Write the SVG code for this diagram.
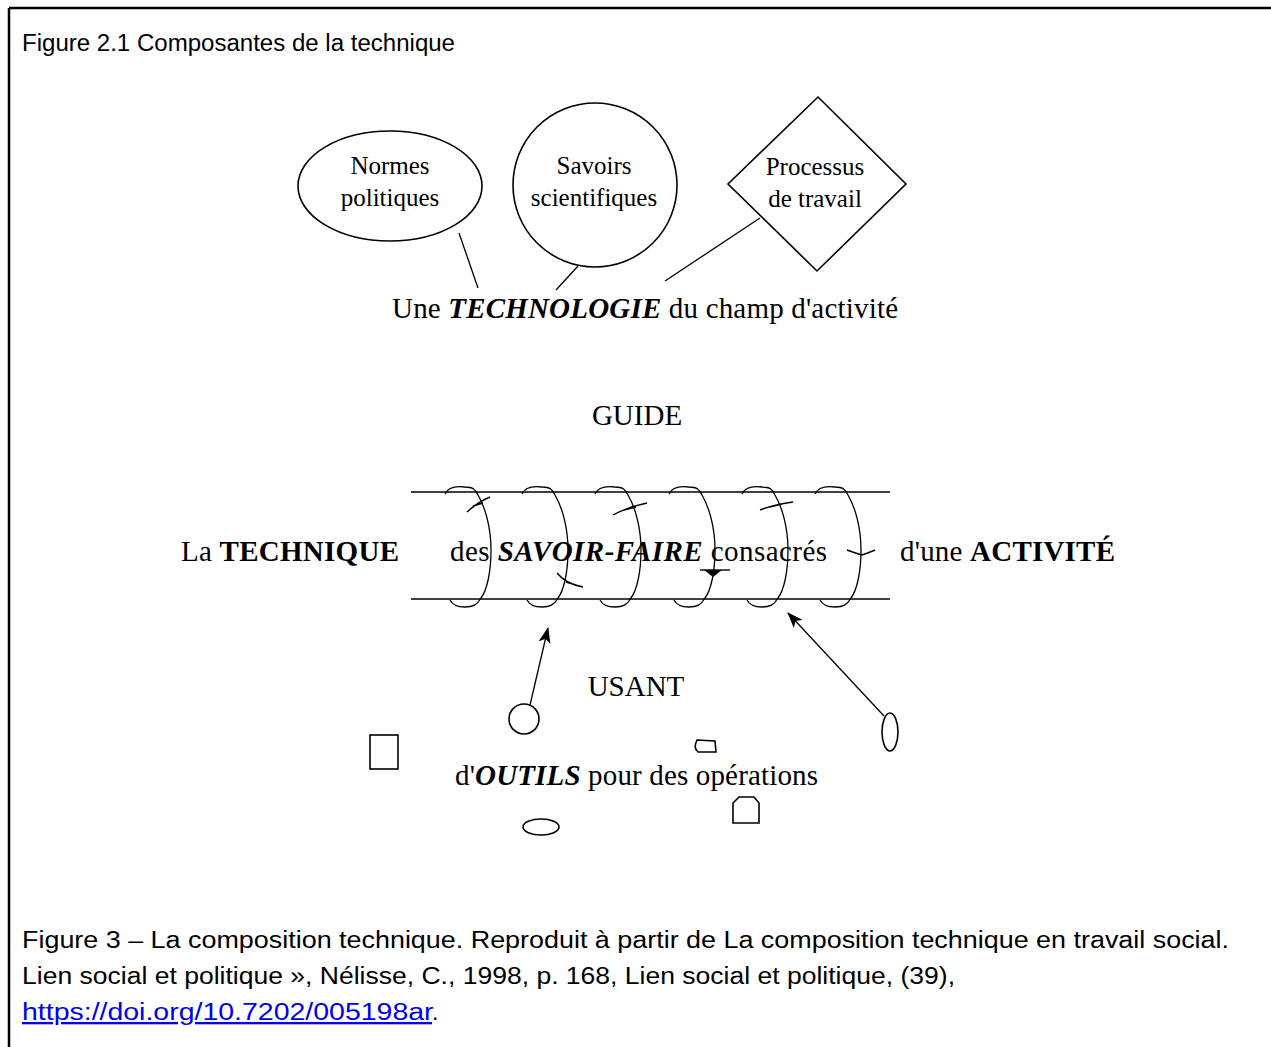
<svg xmlns="http://www.w3.org/2000/svg" width="1271" height="1047" viewBox="0 0 1271 1047">
<style>
.frame{stroke:#000;stroke-width:2.5;fill:none}
.sh{fill:none;stroke:#000;stroke-width:1.6}
.ln{fill:none;stroke:#000;stroke-width:1.3}
.t{font-family:"Liberation Serif","Times New Roman",serif;fill:#000}
.lab{font-size:29px}
.small{font-size:25px}
.cap{font-family:"Liberation Sans",Arial,sans-serif;font-size:23px;fill:#000}
.bi{font-weight:bold;font-style:italic}
.b{font-weight:bold}
.tick{fill:none;stroke:#000;stroke-width:1.4}
</style>
<defs>
<path id="loop" d="M0,2 C3,-5 12,-6 20,-5 C28,-5 30,-3 33,3 C40,15 46,35 46,58 C46,80 42,98 36,106 C32,113 28,115 20,115 C14,115 8,114 5,108"/>
<marker id="ah" viewBox="0 0 16 12" refX="15" refY="6" markerWidth="16" markerHeight="12" markerUnits="userSpaceOnUse" orient="auto">
<path d="M0,0 L16,6 L0,12 L4,6 Z" fill="#000"/>
</marker>
</defs>
<g id="frame">
<line class="frame" x1="9" y1="8" x2="1271" y2="8"/>
<line class="frame" x1="9" y1="8" x2="9" y2="1047"/>
</g>
<text class="cap" x="22" y="51" textLength="433" lengthAdjust="spacingAndGlyphs">Figure 2.1 Composantes de la technique</text>

<g id="normes">
<ellipse class="sh" cx="390" cy="186" rx="92" ry="55"/>
<text class="t small" x="390" y="174" text-anchor="middle">Normes</text>
<text class="t small" x="390" y="206" text-anchor="middle">politiques</text>
</g>
<g id="savoirs">
<ellipse class="sh" cx="595" cy="185" rx="82" ry="82"/>
<text class="t small" x="594" y="174" text-anchor="middle">Savoirs</text>
<text class="t small" x="594" y="206" text-anchor="middle">scientifiques</text>
</g>
<g id="processus">
<polygon class="sh" points="818,97 906,184 817,271 728,184" stroke-width="2.2"/>
<text class="t small" x="815" y="175" text-anchor="middle">Processus</text>
<text class="t small" x="815" y="207" text-anchor="middle">de travail</text>
</g>
<g id="technologie">
<text class="t" x="392" y="318" font-size="29" textLength="506" lengthAdjust="spacing">Une <tspan class="bi">TECHNOLOGIE</tspan> du champ d'activité</text>
</g>
<g id="guide"><text class="t lab" x="637" y="425" text-anchor="middle">GUIDE</text></g>

<g id="technique"><text class="t lab" x="181" y="561" textLength="218" lengthAdjust="spacing">La <tspan class="b">TECHNIQUE</tspan></text></g>
<g id="savoirfaire"><text class="t lab" x="450" y="561" textLength="377" lengthAdjust="spacing">des <tspan class="bi">SAVOIR-FAIRE</tspan> consacrés</text></g>
<g id="activite"><text class="t lab" x="900" y="561" textLength="215" lengthAdjust="spacing">d'une <tspan class="b">ACTIVITÉ</tspan></text></g>
<g id="usant"><text class="t lab" x="636" y="696" text-anchor="middle">USANT</text></g>
<g id="outils"><text class="t lab" x="455" y="785" textLength="363" lengthAdjust="spacing">d'<tspan class="bi">OUTILS</tspan> pour des opérations</text></g>

<g id="tube">
<line class="ln" x1="411" y1="492" x2="890" y2="492"/>
<line class="ln" x1="411" y1="599" x2="890" y2="599"/>
<use href="#loop" class="ln" transform="translate(445,492)"/>
<use href="#loop" class="ln" transform="translate(522,492)"/>
<use href="#loop" class="ln" transform="translate(595,492)"/>
<use href="#loop" class="ln" transform="translate(669,492)"/>
<use href="#loop" class="ln" transform="translate(742,492)"/>
<use href="#loop" class="ln" transform="translate(815,492)"/>
<path class="tick" d="M467,512 Q478,502 490,497 M473,506 L483,503"/>
<path class="tick" d="M557,573 Q566,584 583,587 M566,582 L576,585"/>
<path class="tick" d="M613,515 Q628,507 647,503 M624,510 L636,507"/>
<path class="tick" d="M700,570 L730,570"/>
<path d="M704,570 L722,570 L713,577 Z" fill="#000"/>
<path class="tick" d="M760,510 Q776,504 793,502 M770,507 L782,504"/>
<path class="tick" d="M847,550 Q855,553 862,555 Q868,553 875,550"/>
</g>

<g id="connectors">
<line class="ln" x1="530" y1="705" x2="548" y2="628" marker-end="url(#ah)"/>
<line class="ln" x1="884" y1="716" x2="788" y2="613" marker-end="url(#ah)"/>
<line class="ln" x1="459" y1="233" x2="478" y2="288"/>
<line class="ln" x1="578" y1="266" x2="556" y2="290"/>
<line class="ln" x1="760" y1="218" x2="665" y2="281"/>
</g>

<g id="tools">
<circle class="sh" cx="524" cy="719" r="15"/>
<ellipse class="sh" cx="890" cy="732" rx="8" ry="19"/>
<rect class="sh" x="370" y="735" width="28" height="34"/>
<path class="sh" d="M697,740 L715,741 L716,752 L698,752 Q693,748 697,740 Z"/>
<path class="sh" d="M733,823 L733,803 L739,797 L754,797 L759,803 L759,823 Z"/>
<ellipse class="sh" cx="541" cy="827" rx="18" ry="8"/>
</g>

<g id="caption">
<text class="cap" x="22" y="948" textLength="1207" lengthAdjust="spacingAndGlyphs">Figure 3 – La composition technique. Reproduit à partir de La composition technique en travail social.</text>
<text class="cap" x="22" y="984" textLength="933" lengthAdjust="spacingAndGlyphs">Lien social et politique », Nélisse, C., 1998, p. 168, Lien social et politique, (39),</text>
<text class="cap" x="22" y="1020"><tspan fill="#0000ee" text-decoration="underline" textLength="410" lengthAdjust="spacingAndGlyphs">https://doi.org/10.7202/005198ar</tspan>.</text>
</g>
</svg>
